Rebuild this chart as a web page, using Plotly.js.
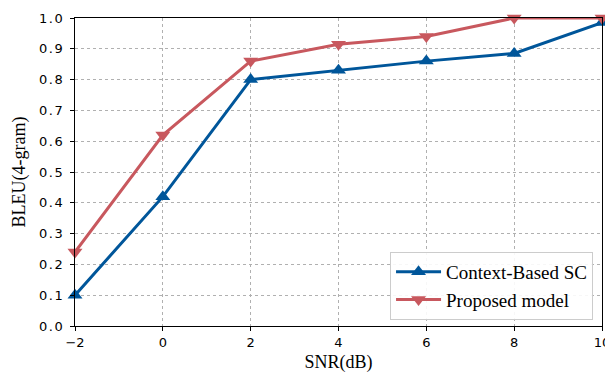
<!DOCTYPE html>
<html>
<head>
<meta charset="utf-8">
<script src="https://cdn.plot.ly/plotly-3.0.1.min.js"></script>
<style>html,body{margin:0;padding:0;background:#fff;}#chart{width:605px;height:376px;}
.ytick text{letter-spacing:1.5px;}</style>
</head>
<body>
<div id="chart"></div>
<script>
const snr = [-2, 0, 2, 4, 6, 8, 10];
const contextBased = [0.10, 0.42, 0.80, 0.83, 0.86, 0.885, 0.985];
const proposed = [0.24, 0.62, 0.86, 0.915, 0.94, 1.0, 1.0];
const xTicks = [-2, 0, 2, 4, 6, 8, 10];
const xTickText = ['\u22122', '0', '2', '4', '6', '8', '10'];
const yTicks = [0, 0.1, 0.2, 0.3, 0.4, 0.5, 0.6, 0.7, 0.8, 0.9, 1.0];
const yTickText = ['0.0','0.1','0.2','0.3','0.4','0.5','0.6','0.7','0.8','0.9','1.0'];

const blue = '#00569a';
const red = '#c8585e';

const traces = [
  {x: snr, y: contextBased, name: 'Context-Based SC', mode: 'lines+markers',
   line: {color: blue, width: 3}, marker: {symbol: 'triangle-up', size: 13, color: blue}, cliponaxis: false},
  {x: snr, y: proposed, name: 'Proposed model', mode: 'lines+markers',
   line: {color: red, width: 3}, marker: {symbol: 'triangle-down', size: 13, color: red}, cliponaxis: false}
];

const axisCommon = {
  showline: true, linecolor: '#000', linewidth: 1.2, mirror: true,
  ticks: 'outside', ticklen: 4, tickcolor: '#000', tickwidth: 1,
  showgrid: true, gridcolor: '#b0b0b0', griddash: 'dot', gridwidth: 1,
  zeroline: false, ticklabeloverflow: 'allow',
  tickfont: {family: 'DejaVu Sans', size: 13, color: '#000'}
};

const layout = {
  width: 605, height: 376,
  margin: {l: 75, r: 3, t: 18, b: 50},
  paper_bgcolor: '#fff', plot_bgcolor: '#fff',
  showlegend: true,
  xaxis: Object.assign({}, axisCommon, {
    range: [-2, 10], tickvals: xTicks, ticktext: xTickText,
    title: {text: 'SNR(dB)', font: {family: 'Liberation Serif', size: 18, color: '#000'}, standoff: 6}
  }),
  yaxis: Object.assign({}, axisCommon, {
    range: [0, 1], tickvals: yTicks, ticktext: yTickText, ticklabelstandoff: 3,
    title: {text: 'BLEU(4-gram)', font: {family: 'Liberation Serif', size: 18, color: '#000'}, standoff: 8}
  }),
  legend: {
    x: 0.983, xanchor: 'right', y: 0.02, yanchor: 'bottom',
    bgcolor: 'rgba(255,255,255,0.9)', bordercolor: '#cccccc', borderwidth: 1,
    font: {family: 'Liberation Serif', size: 19, color: '#000'},
    itemwidth: 45, tracegroupgap: 0
  }
};

Plotly.newPlot('chart', traces, layout, {displayModeBar: false, staticPlot: true});
</script>
</body>
</html>
